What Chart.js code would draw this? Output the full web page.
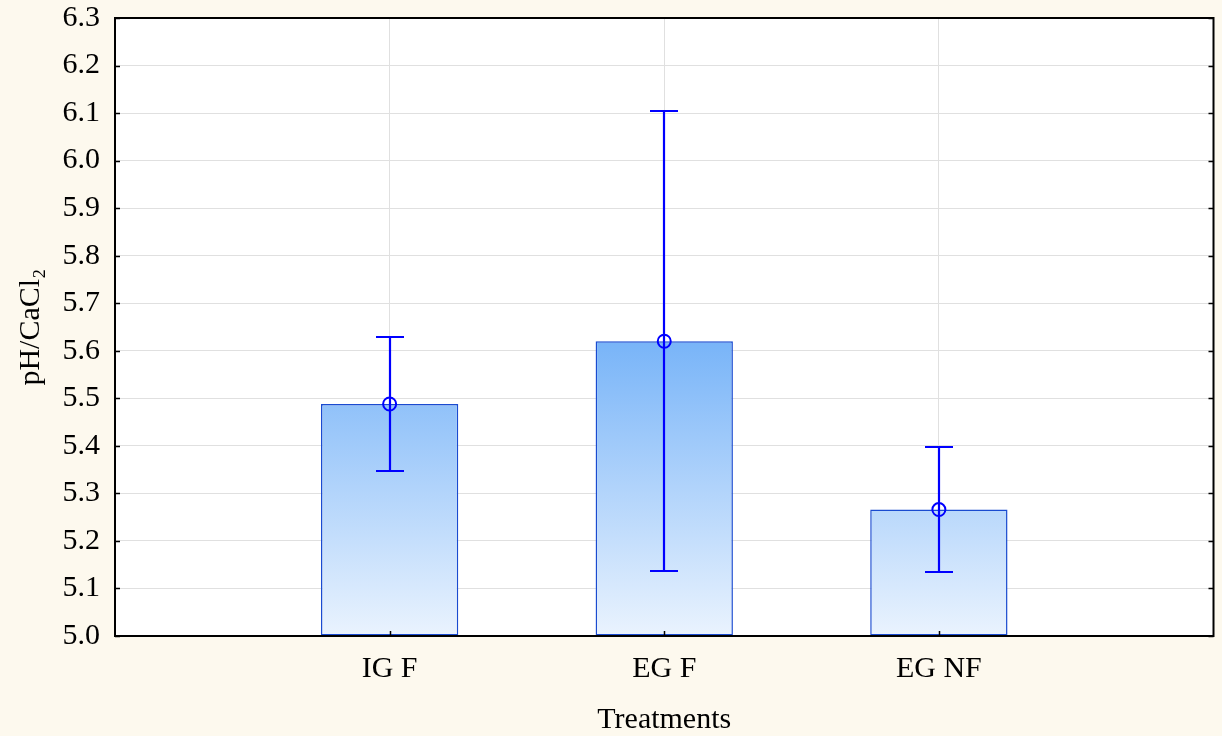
<!DOCTYPE html>
<html>
<head>
<meta charset="utf-8">
<title>pH/CaCl2 by treatment</title>
<script src="https://cdn.jsdelivr.net/npm/chart.js@4"></script>
<style>
  html, body { margin: 0; padding: 0; background: #fdf9ee; }
  canvas { display: block; }
</style>
</head>
<body>
<canvas id="chart" width="1222" height="736"></canvas>
<script>
// Treatment groups and measured soil pH (CaCl2): mean with lower/upper interval bounds
const categories = ['IG F', 'EG F', 'EG NF'];
const means      = [5.488, 5.620, 5.266];
const lowerBound = [5.347, 5.137, 5.135];
const upperBound = [5.630, 6.104, 5.398];

const yMin = 5.0;
const yMax = 6.3;
const yStep = 0.1;

const FONT = "'Liberation Serif', 'Times New Roman', serif";
const BLUE = '#0000ff';

const positions = categories.map((_, i) => i + 1);
const barPoints = positions.map((x, i) => ({ x, y: means[i] }));

// White plotting area on cream page
const plotBackground = {
  id: 'plotBackground',
  beforeDraw(chart) {
    const { ctx, chartArea: a } = chart;
    ctx.save();
    ctx.fillStyle = '#fdf9ee';
    ctx.fillRect(0, 0, chart.width, chart.height);
    ctx.fillStyle = '#ffffff';
    ctx.fillRect(a.left, a.top, a.right - a.left, a.bottom - a.top);
    ctx.restore();
  }
};

// Whiskers drawn right after the bars so the mean circles sit on top
const whiskers = {
  id: 'whiskers',
  afterDatasetDraw(chart, args) {
    if (args.index !== 0) return;
    const { ctx, scales: { x, y } } = chart;
    ctx.save();
    ctx.strokeStyle = BLUE;
    ctx.lineWidth = 2.2;
    const cap = 14;
    positions.forEach((p, i) => {
      const px = Math.round(x.getPixelForValue(p));
      const yl = Math.round(y.getPixelForValue(lowerBound[i]));
      const yh = Math.round(y.getPixelForValue(upperBound[i]));
      ctx.beginPath();
      ctx.moveTo(px, yh); ctx.lineTo(px, yl);
      ctx.moveTo(px - cap, yh); ctx.lineTo(px + cap, yh);
      ctx.moveTo(px - cap, yl); ctx.lineTo(px + cap, yl);
      ctx.stroke();
    });
    ctx.restore();
  }
};

// Black frame with short inward tick marks
const frame = {
  id: 'frame',
  afterDraw(chart) {
    const { ctx, chartArea: a, scales: { x, y } } = chart;
    ctx.save();
    ctx.strokeStyle = '#000000';
    ctx.lineWidth = 1.5;
    ctx.beginPath();
    y.ticks.forEach(t => {
      const py = Math.round(y.getPixelForValue(t.value)) + 0.5;
      ctx.moveTo(a.left, py); ctx.lineTo(a.left + 5, py);
      ctx.moveTo(a.right, py); ctx.lineTo(a.right - 5, py);
    });
    x.ticks.forEach(t => {
      const px = Math.round(x.getPixelForValue(t.value)) + 0.5;
      ctx.moveTo(px, a.bottom); ctx.lineTo(px, a.bottom - 5);
    });
    ctx.stroke();
    ctx.lineWidth = 2;
    ctx.strokeRect(a.left, a.top, a.right - a.left, a.bottom - a.top);
    ctx.restore();
  }
};

function barGradient(context) {
  const chart = context.chart;
  const { chartArea, scales } = chart;
  if (!chartArea || !scales.y) return '#a8d0fa';
  const y0 = scales.y.getPixelForValue(yMin);
  const y1 = scales.y.getPixelForValue(Math.max(...means));
  const g = chart.ctx.createLinearGradient(0, y0, 0, y1);
  g.addColorStop(0, '#eaf3fe');
  g.addColorStop(1, '#78b4f8');
  return g;
}

new Chart(document.getElementById('chart'), {
  type: 'bar',
  data: {
    datasets: [
      {
        type: 'bar',
        data: barPoints,
        base: yMin,
        backgroundColor: barGradient,
        borderColor: '#1a4bd0',
        borderWidth: 1.5,
        borderSkipped: false,
        barPercentage: 0.5,
        categoryPercentage: 1.0,
        order: 2
      },
      {
        type: 'line',
        data: barPoints,
        showLine: false,
        pointRadius: 6.5,
        pointHoverRadius: 6.5,
        pointBorderWidth: 2,
        pointBorderColor: BLUE,
        pointBackgroundColor: 'rgba(0,0,0,0)',
        order: 1
      }
    ]
  },
  options: {
    responsive: false,
    animation: false,
    devicePixelRatio: 1,
    layout: { padding: { top: 18, right: 6, left: 0, bottom: 0 } },
    plugins: {
      legend: { display: false },
      tooltip: { enabled: false }
    },
    scales: {
      x: {
        type: 'linear',
        offset: false,
        min: 0,
        max: categories.length + 1,
        afterBuildTicks(scale) {
          scale.ticks = positions.map(v => ({ value: v }));
        },
        afterFit(scale) {
          scale.height = 100;
          scale.paddingLeft = 0;
          scale.paddingRight = 0;
        },
        ticks: {
          autoSkip: false,
          maxRotation: 0,
          padding: 15,
          color: '#000000',
          font: { family: FONT, size: 30 },
          callback: v => categories[v - 1] ?? ''
        },
        grid: { color: '#e0e0e0', lineWidth: 1, drawTicks: false, offset: false },
        border: { display: false },
        title: {
          display: true,
          text: 'Treatments',
          color: '#000000',
          font: { family: FONT, size: 30 },
          padding: { top: 0, bottom: -2 }
        }
      },
      y: {
        type: 'linear',
        min: yMin,
        max: yMax,
        afterFit(scale) {
          scale.width = 115;
          scale.paddingTop = 0;
          scale.paddingBottom = 0;
        },
        ticks: {
          stepSize: yStep,
          padding: 15,
          color: '#000000',
          font: { family: FONT, size: 30 },
          callback: v => Number(v).toFixed(1)
        },
        grid: { color: '#e0e0e0', lineWidth: 1, drawTicks: false },
        border: { display: false },
        title: {
          display: true,
          text: 'pH/CaCl\u2082',
          color: '#000000',
          font: { family: FONT, size: 30 },
          padding: { top: 13, bottom: 0 }
        }
      }
    }
  },
  plugins: [plotBackground, whiskers, frame]
});
</script>
</body>
</html>
